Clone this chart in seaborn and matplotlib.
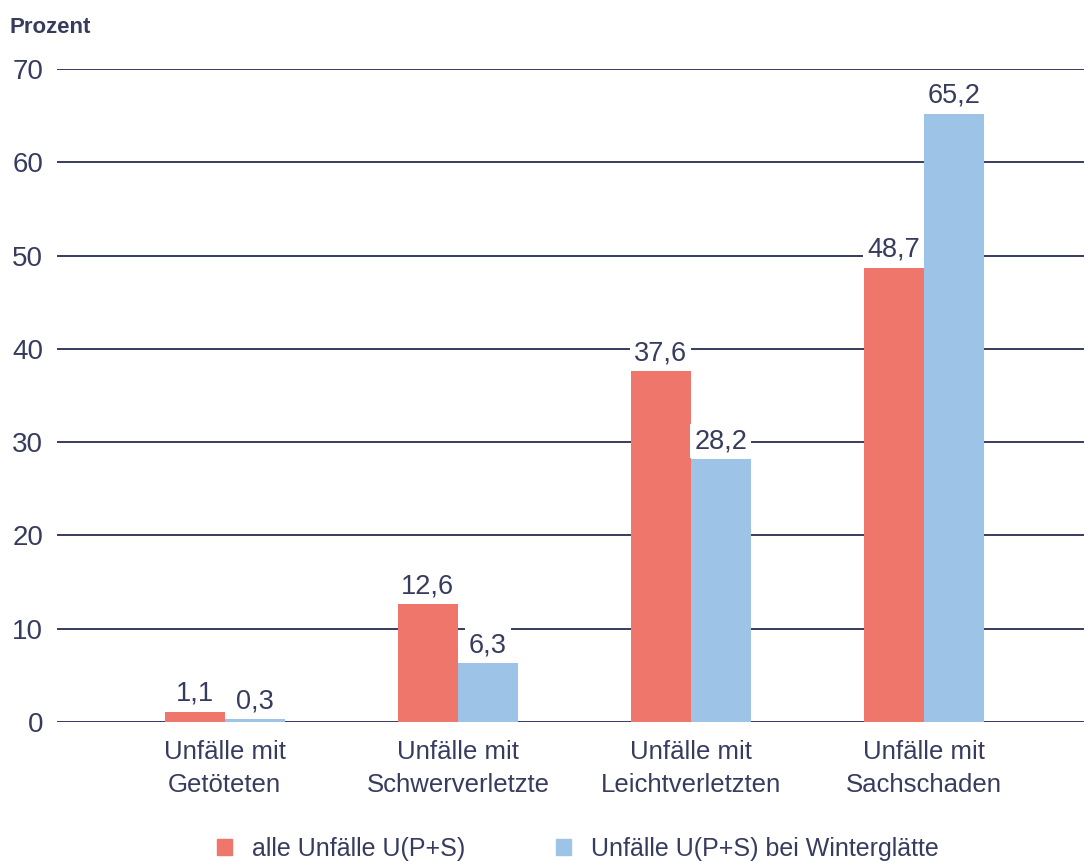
import matplotlib
matplotlib.use("Agg")
import matplotlib.pyplot as plt
import seaborn as sns
import pandas as pd

categories = ["Unfälle mit\nGetöteten", "Unfälle mit\nSchwerverletzte",
              "Unfälle mit\nLeichtverletzten", "Unfälle mit\nSachschaden"]
series_names = ["alle Unfälle U(P+S)", "Unfälle U(P+S) bei Winterglätte"]
alle = [1.1, 12.6, 37.6, 48.7]
winter = [0.3, 6.3, 28.2, 65.2]
y_ticks = [0, 10, 20, 30, 40, 50, 60, 70]

NAVY = "#373c5e"
RED = "#ee766a"
BLUE = "#9dc3e6"

sns.set_theme(style="white")
plt.rcParams["font.family"] = ["Liberation Sans", "DejaVu Sans"]

df = pd.DataFrame({
    "Kategorie": categories * 2,
    "Serie": [series_names[0]] * 4 + [series_names[1]] * 4,
    "Wert": alle + winter,
})

fig = plt.figure(figsize=(10.84, 8.61), dpi=100)
ax = fig.add_axes([0.0526, 0.1614, 0.9474, 0.7585])

sns.barplot(data=df, x="Kategorie", y="Wert", hue="Serie",
            palette=[RED, BLUE], width=0.515, gap=0, dodge=True,
            saturation=1, linewidth=0, ax=ax, legend=False, zorder=2)

ax.set_ylim(0, 70)
ax.set_xlim(-0.72, 3.687)
ax.set_yticks(y_ticks)
ax.set_yticklabels([str(t) for t in y_ticks])
for t in y_ticks:
    ax.axhline(t, color=NAVY, lw=1.4, zorder=1)

for s in ax.spines.values():
    s.set_visible(False)
ax.tick_params(axis="y", length=0, pad=10, labelsize=20, labelcolor=NAVY)
ax.tick_params(axis="x", length=0, pad=13, labelsize=18.5, labelcolor=NAVY)
for lbl in ax.get_xticklabels():
    lbl.set_linespacing(1.45)
ax.set_xlabel("")
ax.set_ylabel("")

# value labels on white boxes sitting on top of each bar
for container in ax.containers:
    for bar in container:
        h = bar.get_height()
        ax.annotate(f"{h:.1f}".replace(".", ","),
                    (bar.get_x() + bar.get_width() / 2, h),
                    xytext=(0, 3.5), textcoords="offset points",
                    ha="center", va="bottom", fontsize=19.5, color=NAVY,
                    bbox=dict(boxstyle="square,pad=0.15", fc="white", ec="none"),
                    zorder=4)

fig.text(0.009, 0.968, "Prozent", fontsize=16, fontweight="bold",
         color=NAVY, ha="left", va="center")

# legend along the bottom edge
handles = [plt.Rectangle((0, 0), 1, 1, color=c) for c in (RED, BLUE)]
fig.legend(handles, series_names, loc="center", bbox_to_anchor=(0.533, 0.014),
           ncol=2, frameon=False, fontsize=18, labelcolor=NAVY,
           handlelength=0.6, handleheight=0.6, columnspacing=3.6,
           handletextpad=0.8)

fig.savefig("out.png", dpi=100)
